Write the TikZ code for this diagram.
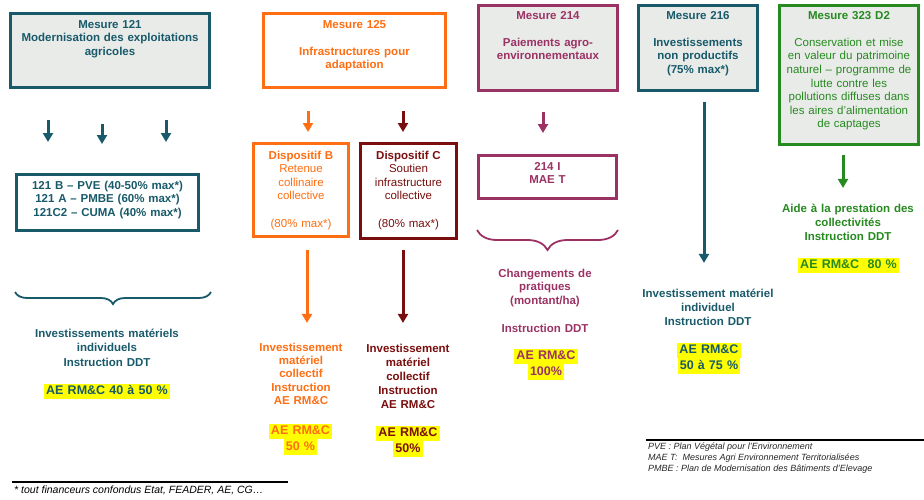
\documentclass[tikz,border=0pt]{standalone}
\usepackage{fontspec}
\setmainfont{Liberation Sans}
\usetikzlibrary{arrows.meta,decorations.pathreplacing}
\definecolor{tealM}{RGB}{24,90,106}
\definecolor{orangeM}{RGB}{255,110,18}
\definecolor{redM}{RGB}{122,14,14}
\definecolor{plumM}{RGB}{155,50,100}
\definecolor{greenM}{RGB}{38,138,32}
\definecolor{boxgray}{RGB}{233,235,233}
\definecolor{hlyellow}{RGB}{255,255,0}
\newcommand{\hl}[1]{{\setlength{\fboxsep}{0pt}\colorbox{hlyellow}{\strut\,#1\,}}}

\begin{document}
\begin{tikzpicture}[x=1pt,y=1pt,
		mesure/.style={draw,line width=3pt,align=center,anchor=north,inner xsep=3pt,inner ysep=0pt,font=\fontsize{11.5}{13.6}\selectfont\bfseries},
		result/.style={align=center,anchor=base,inner sep=0pt,text width=160pt,text height=8pt,font=\fontsize{11.5}{13.8}\selectfont\bfseries},
		taux/.style={align=center,anchor=base,inner sep=0pt,text width=140pt,font=\fontsize{12.5}{15.5}\selectfont\bfseries},
		arr/.style={line width=3pt,-{Triangle[width=10pt,length=9pt]}},
		accolade/.style={line width=1.8pt,decorate,decoration={brace,mirror,amplitude=#1}},
	]
	\useasboundingbox (0,0) rectangle (924,-499);

	\node[mesure,fill=boxgray,draw=tealM,text=tealM,text width=193pt,text height=14.6pt,text depth=59.4pt] (m121) at (110,-12)
		{Mesure 121\\Modernisation des exploitations\\agricoles};
	\node[mesure,fill=white,draw=tealM,text=tealM,text width=176pt,text height=14.6pt,text depth=41.4pt] (l121) at (107.5,-173)
		{121 B -- PVE (40-50\% max*)\\121 A -- PMBE (60\% max*)\\121C2 -- CUMA (40\% max*)};
	\foreach \x/\a/\b in {48/31/31,102/35/29,166/31/31} {
		\draw[arr,tealM,shorten <=\a pt,shorten >=\b pt] (m121.south -| \x,0) -- (l121.north -| \x,0);
	}
	\draw[accolade=12pt,tealM] (15,-292) -- (211,-292);
	\node[result,text=tealM,font=\fontsize{11.5}{14.5}\selectfont\bfseries] (t121) at (107,-337.1) {Investissements matériels\\individuels\\Instruction DDT};
	\node[taux,text=tealM] (h121) at (107,-394.6) {\hl{AE RM\&C 40 à 50 \%}};

	\node[mesure,fill=white,draw=orangeM,text=orangeM,text width=176pt,text height=14.6pt,text depth=59.4pt] (m125) at (354.5,-12)
		{Mesure 125\\[13.6pt]Infrastructures pour\\adaptation};
	\node[mesure,fill=white,draw=orangeM,text=orangeM,text width=89pt,text height=15.6pt,text depth=77.4pt] (dB) at (301,-142)
		{Dispositif B\\\mdseries Retenue\\collinaire\\collective\\[13.6pt](80\% max*)};
	\node[mesure,fill=white,draw=redM,text=redM,text width=90pt,text height=15.6pt,text depth=79.4pt] (dC) at (408.5,-142)
		{Dispositif C\\\mdseries Soutien\\infrastructure\\collective\\[13.6pt](80\% max*)};
	\draw[arr,orangeM,shorten <=22pt,shorten >=10pt] (m125.south -| 308,0) -- (dB.north -| 308,0);
	\draw[arr,redM,shorten <=22pt,shorten >=10pt] (m125.south -| 403,0) -- (dC.north -| 403,0);
	\node[result,text=orangeM,font=\fontsize{11.5}{13.3}\selectfont\bfseries] (tB) at (301,-351.1)
		{Investissement\\matériel\\collectif\\Instruction\\AE RM\&C};
	\node[result,text=redM,font=\fontsize{11.5}{14}\selectfont\bfseries] (tC) at (408,-352.1)
		{Investissement\\matériel\\collectif\\Instruction\\AE RM\&C};
	\draw[arr,orangeM,shorten <=12pt,shorten >=20pt] (dB.south -| 307,0) -- (tB.north -| 307,0);
	\draw[arr,redM,shorten <=10pt,shorten >=21pt] (dC.south -| 403,0) -- (tC.north -| 403,0);
	\node[taux,text=orangeM] (hB) at (300.5,-434.6) {\hl{AE RM\&C}\\\hl{50 \%}};
	\node[taux,text=redM] (hC) at (408,-436.6) {\hl{AE RM\&C}\\\hl{50\%}};

	\node[mesure,fill=boxgray,draw=plumM,text=plumM,text width=133pt,text height=13.6pt,text depth=71.4pt] (m214) at (548,-4)
		{Mesure 214\\[13.6pt]Paiements agro-\\environnementaux};
	\node[mesure,fill=white,draw=plumM,text=plumM,text width=132pt,text height=14.6pt,text depth=28.4pt] (i214) at (547.5,-154)
		{214 I\\MAE T};
	\draw[arr,plumM,shorten <=20pt,shorten >=21pt] (m214.south -| 543,0) -- (i214.north -| 543,0);
	\draw[accolade=20pt,plumM] (477,-230) -- (618,-230);
	\node[result,text=plumM] (t214) at (545,-277.1) {Changements de\\pratiques\\(montant/ha)\\[13.8pt]Instruction DDT};
	\node[taux,text=plumM] (h214) at (546,-359.6) {\hl{AE RM\&C}\\\hl{100\%}};

	\node[mesure,fill=boxgray,draw=tealM,text=tealM,text width=113pt,text height=13.6pt,text depth=71.4pt] (m216) at (698,-4)
		{Mesure 216\\[13.6pt]Investissements\\non productifs\\(75\% max*)};
	\node[result,text=tealM,font=\fontsize{11.5}{14}\selectfont\bfseries] (t216) at (708,-297.1) {Investissement matériel\\individuel\\Instruction DDT};
	\draw[arr,tealM,shorten <=10pt,shorten >=26pt] (m216.south -| 704,0) -- (t216.north -| 704,0);
	\node[taux,text=tealM] (h216) at (709,-353.6) {\hl{AE RM\&C}\\\hl{50 à 75 \%}};

	\node[mesure,fill=boxgray,draw=greenM,text=greenM,text width=133pt,text height=13.6pt,text depth=125.4pt] (m323) at (849,-4)
		{Mesure 323 D2\\[13.6pt]\mdseries Conservation et mise\\en valeur du patrimoine\\naturel – programme de\\lutte contre les\\pollutions diffuses dans\\les aires d’alimentation\\de captages};
	\node[result,text=greenM,font=\fontsize{11.5}{14}\selectfont\bfseries] (t323) at (848,-212.1) {Aide à la prestation des\\collectivités\\Instruction DDT};
	\draw[arr,greenM,shorten <=9pt,shorten >=16pt] (m323.south -| 843,0) -- (t323.north -| 843,0);
	\node[taux,text=greenM] (h323) at (848.5,-268.6) {\hl{AE RM\&C\ \ 80 \%}};

	\draw[line width=1.5pt] (646,-440) -- (924,-440);
	\node[anchor=north west,align=left,inner sep=0pt,text=black!85,font=\fontsize{9}{11}\selectfont\itshape] (sigles) at (648,-442.5)
		{PVE : Plan Végétal pour l’Environnement\\MAE T:\ \ Mesures Agri Environnement Territorialisées\\PMBE : Plan de Modernisation des Bâtiments d’Elevage};
	\draw[line width=1.5pt] (12,-482) -- (288,-482);
	\node[anchor=north west,inner sep=0pt,font=\fontsize{10.5}{12}\selectfont\itshape] (renvoi) at (14,-485.5)
		{* tout financeurs confondus Etat, FEADER, AE, CG…};
\end{tikzpicture}
\end{document}
